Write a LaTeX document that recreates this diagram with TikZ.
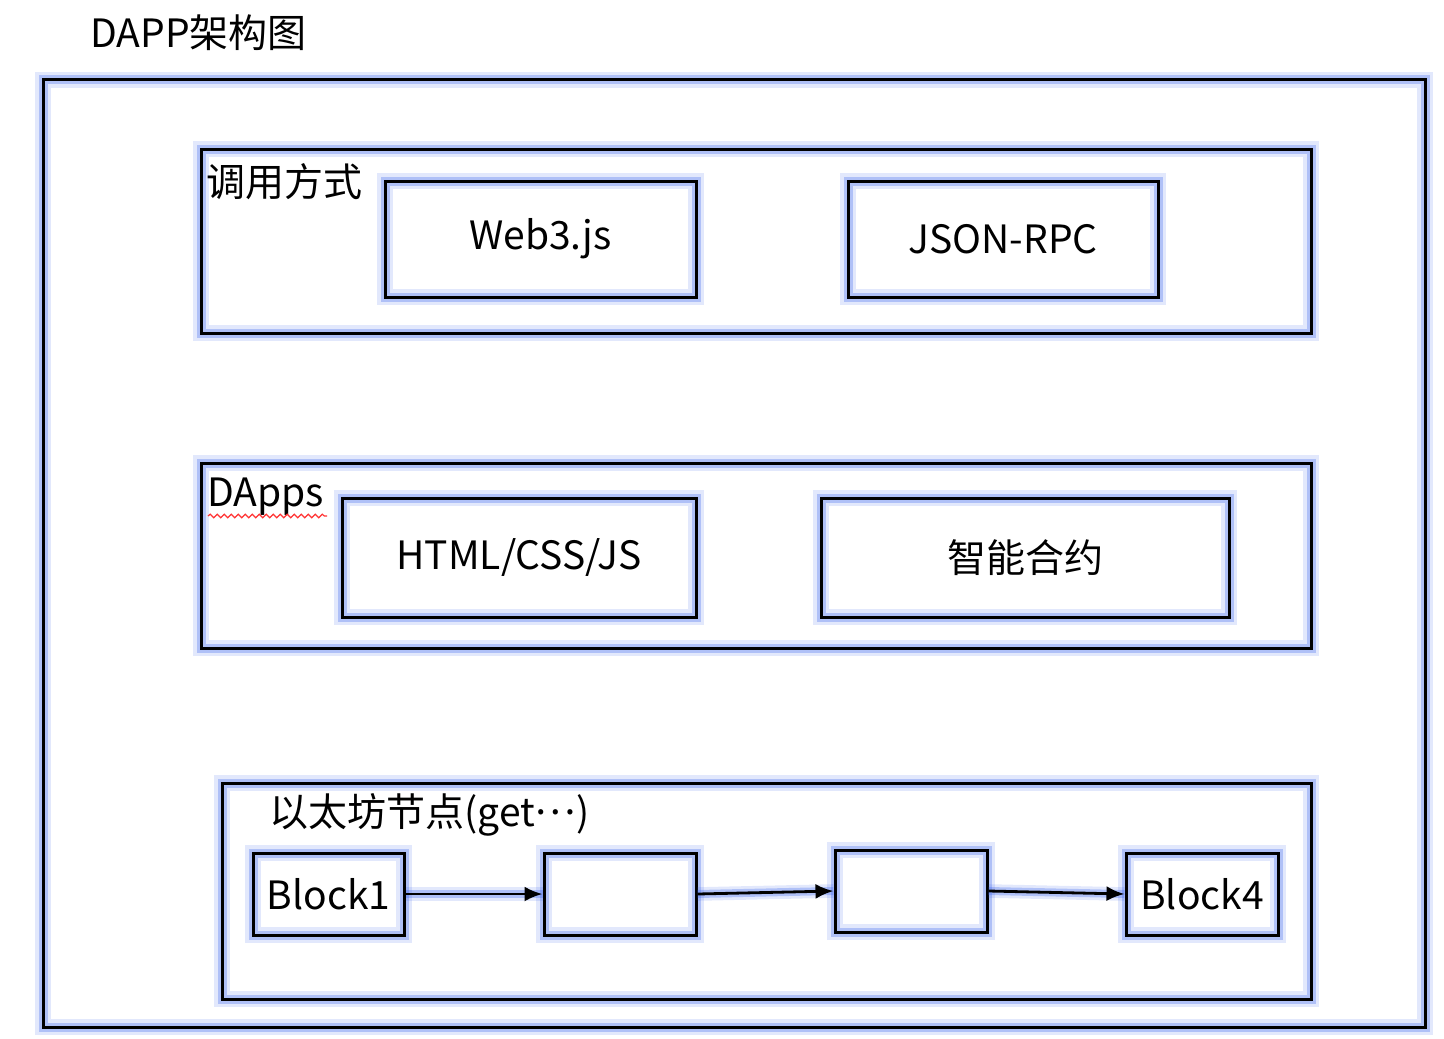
\documentclass[tikz,border=0pt]{standalone}
\usepackage{fontspec}
\setmainfont{Noto Sans CJK SC}
\usetikzlibrary{arrows.meta,decorations.pathmorphing}
\definecolor{glowc}{RGB}{60,100,235}
\tikzset{
  glow/.style={preaction={draw=glowc, line width=#1, opacity=0.3, -,
      preaction={draw=glowc, line width=#1*1.7, opacity=0.15, -}}},
  glowbox/.style={draw=black, line width=1.5pt, glow=4.5pt},
  box/.style={glowbox, rectangle, inner sep=0pt, font=\fontsize{19.5}{22}\selectfont},
  lbl/.style={anchor=west, inner sep=0pt, font=\fontsize{19.5}{22}\selectfont},
  conn/.style={line width=1.4pt, -{Latex[length=9pt,width=7.5pt]}, glow=4pt},
}
\begin{document}
\begin{tikzpicture}[x=0.5pt,y=-0.5pt]
\useasboundingbox (0,0) rectangle (1444,1038);
\node[lbl] (title) at (90,33) {DAPP架构图};
\draw[glowbox] (43,80) rectangle (1425,1027);
% layer 1
\draw[glowbox] (201,149) rectangle (1311,333);
\node[lbl] (l1) at (206,182) {调用方式};
\node[box, minimum width=155.5pt, minimum height=58pt] (web3) at (540.5,239) {Web3.js};
\node[box, minimum width=155pt, minimum height=58pt] (json) at (1003,239) {JSON-RPC};
% layer 2
\draw[glowbox] (201,463) rectangle (1311,648);
\node[lbl] (l2) at (207,497) {DApps};
\draw[red!80, line width=0.6pt, decorate, decoration={snake, amplitude=0.9pt, segment length=3.5pt}] (208,516) -- (327,516);
\node[box, minimum width=177pt, minimum height=59.5pt] (html) at (519,557.5) {HTML/CSS/JS};
\node[box, minimum width=204pt, minimum height=59.5pt] (sc) at (1025,557.5) {智能合约};
% layer 3
\draw[glowbox] (222,783) rectangle (1311,999);
\node[lbl] (l3) at (269,815) {以太坊节点(get\raisebox{0.3em}{…})};
\node[box, minimum width=75.5pt, minimum height=41pt] (b1) at (328.5,894) {Block1};
\node[box, minimum width=76pt, minimum height=41pt] (b2) at (620,894) {};
\node[box, minimum width=76pt, minimum height=41pt] (b3) at (911,891) {};
\node[box, minimum width=76pt, minimum height=41pt] (b4) at (1202,894) {Block4};
\draw[conn] (b1.east) -- (b2.west);
\draw[conn] (b2.east) -- (b3.west);
\draw[conn] (b3.east) -- (b4.west);
\end{tikzpicture}
\end{document}
